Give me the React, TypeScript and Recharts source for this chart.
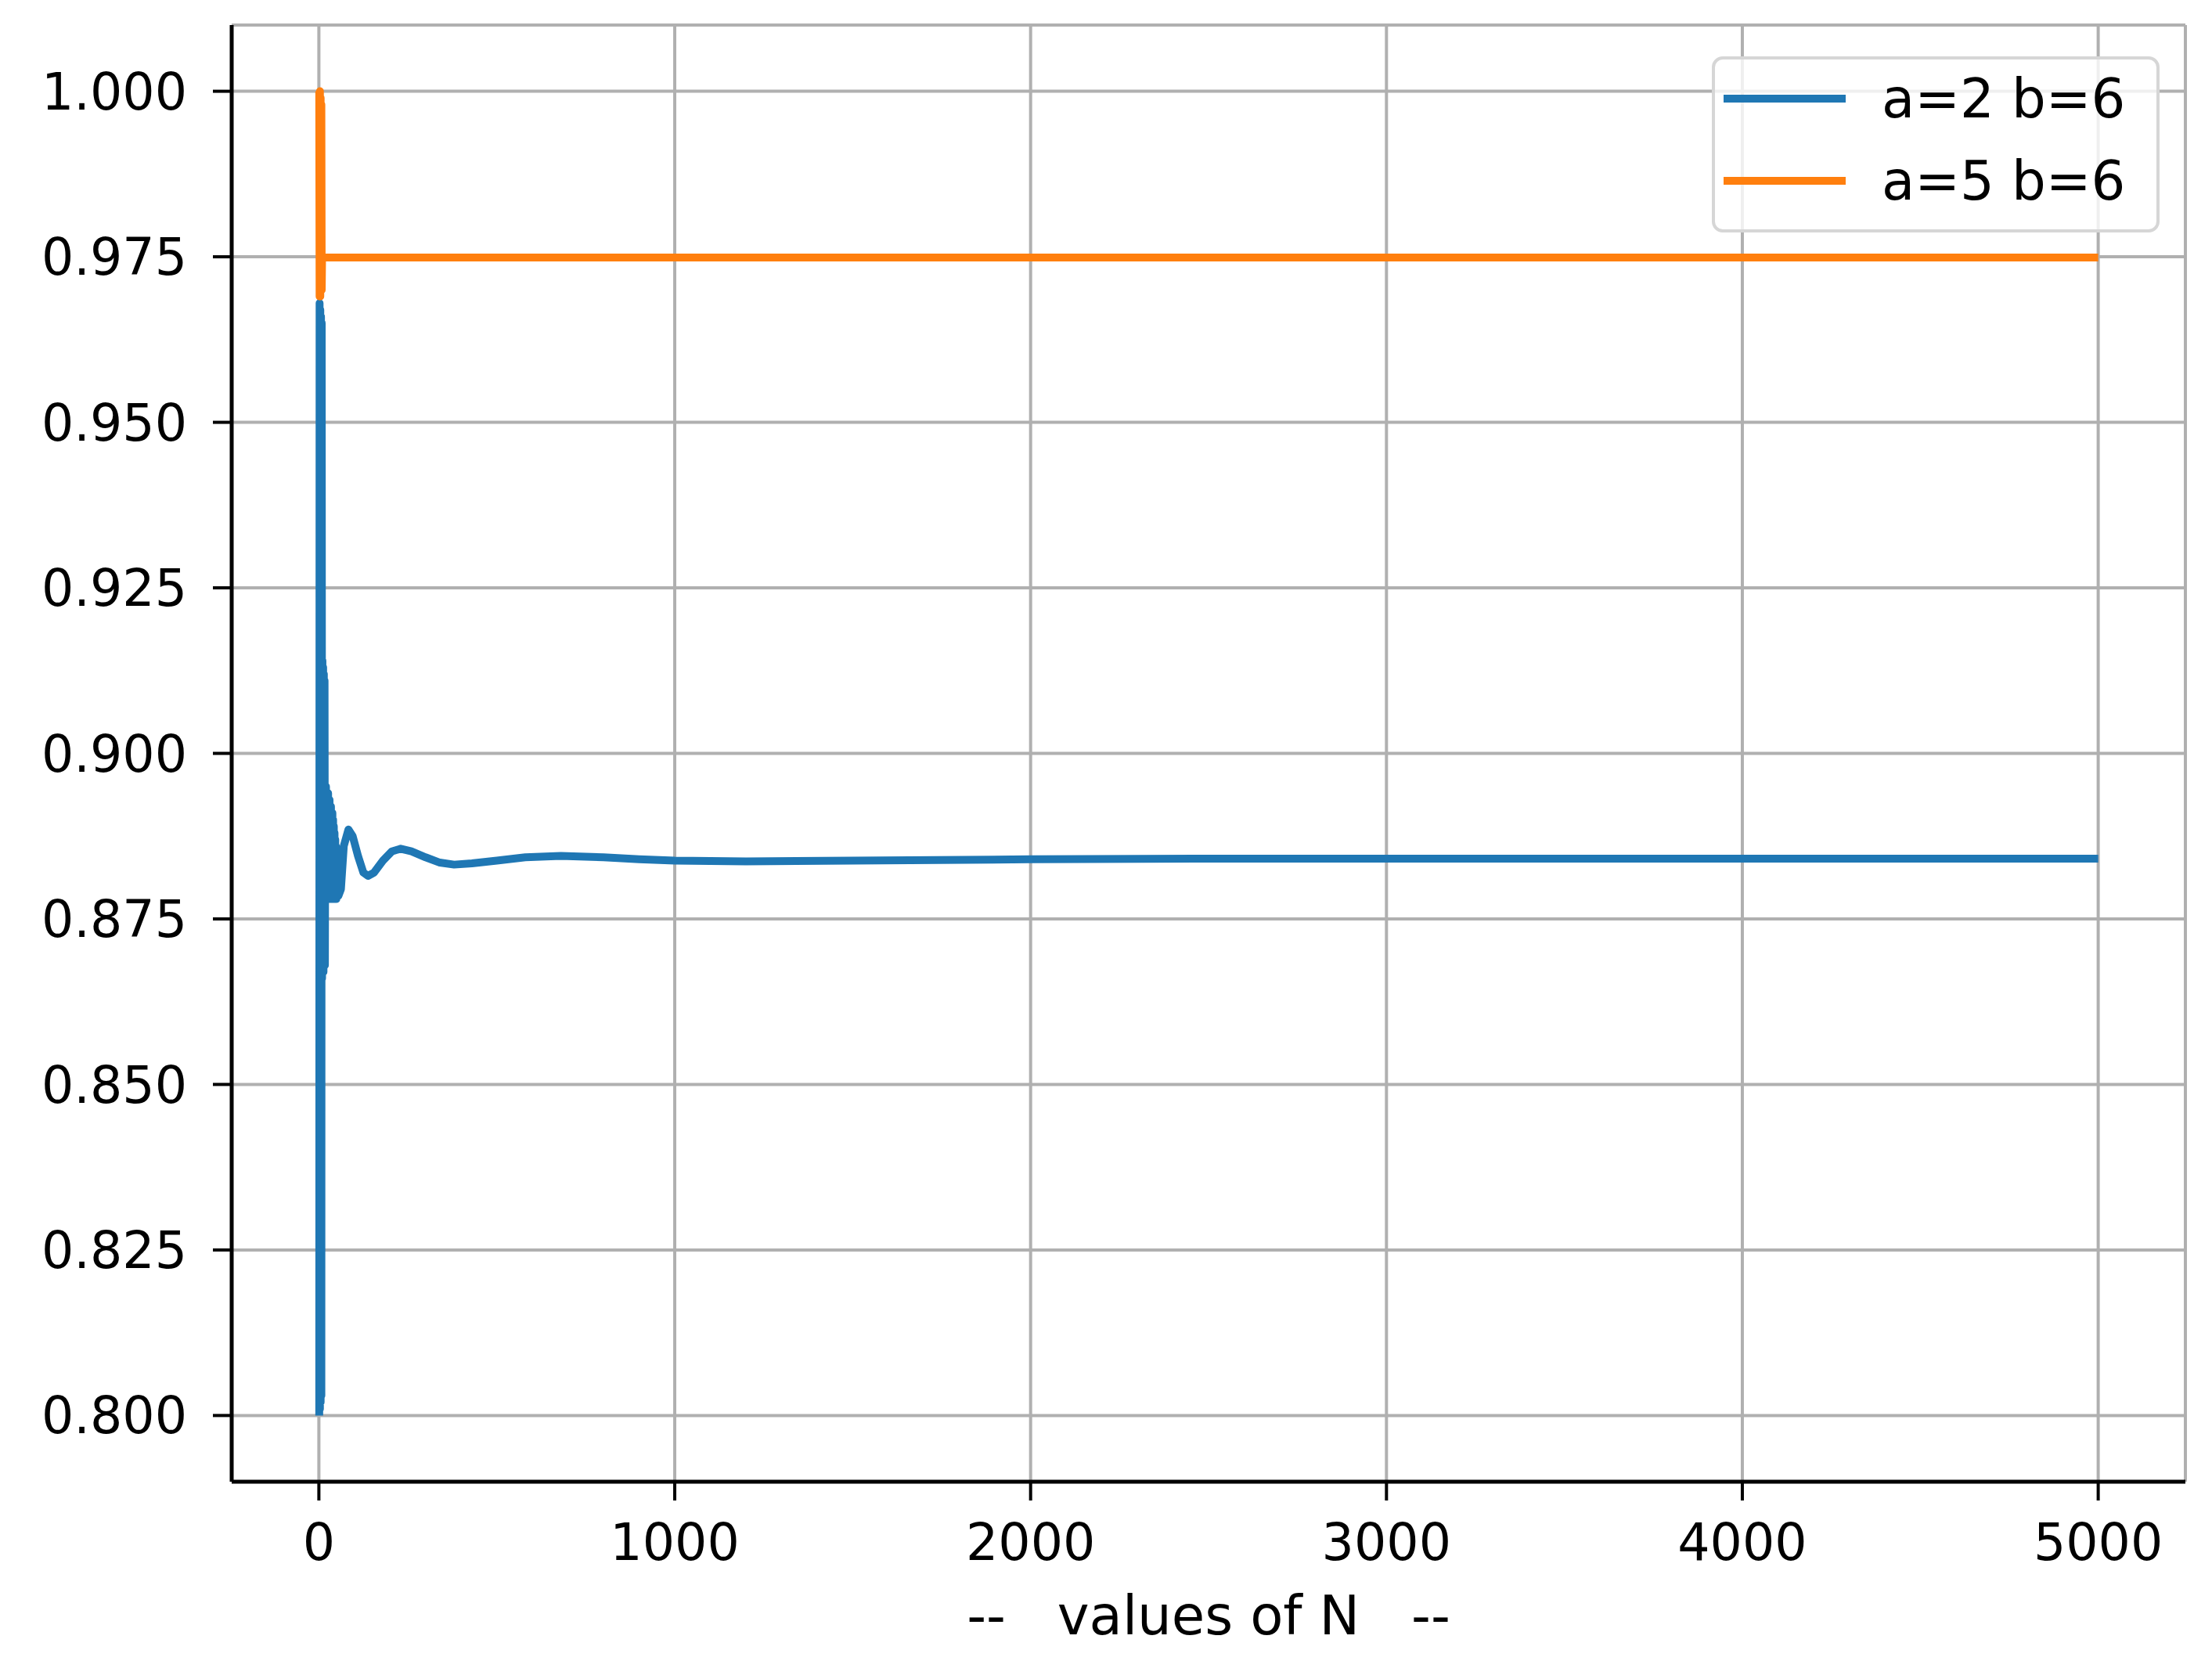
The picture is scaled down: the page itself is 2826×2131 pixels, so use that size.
import React from "react";
import {
  LineChart,
  Line,
  XAxis,
  YAxis,
  CartesianGrid,
  Legend,
  Label,
} from "recharts";

// values of N and ratios (dense near N=0 where it oscillates)
const blueN = [
  1, 2, 3, 4, 5, 6, 7, 8, 9, 10, 11, 12, 13, 14, 15, 16, 17, 18, 19, 20, 21,
  22, 23, 24, 25, 26, 27, 28, 29, 30, 31, 32, 33, 34, 35, 36, 37, 38, 39, 40,
  41, 42, 43, 44, 45, 46, 47, 48, 49, 50, 55, 62, 70, 83, 95, 110, 125, 138,
  155, 180, 205, 230, 260, 300, 340, 380, 430, 500, 580, 680, 800, 900, 1000,
  1200, 1500, 2000, 2500, 3000, 4000, 5000,
];
const blueValues = [
  0.8, 0.968, 0.801, 0.967, 0.802, 0.966, 0.803, 0.965,
  0.866, 0.914, 0.867, 0.913, 0.867, 0.912, 0.868, 0.911, 0.868,
  0.895, 0.878, 0.895, 0.878, 0.894, 0.878, 0.894, 0.878, 0.894, 0.878, 0.893,
  0.878, 0.893, 0.878, 0.892, 0.878, 0.892, 0.878, 0.891, 0.878, 0.891, 0.878,
  0.89, 0.878, 0.889, 0.878, 0.888, 0.878, 0.887, 0.878, 0.886, 0.878, 0.885,
  0.8785, 0.8795, 0.886, 0.8885, 0.8875, 0.8845, 0.882, 0.8815, 0.882, 0.8838,
  0.8852, 0.8856, 0.8852, 0.8843, 0.8835, 0.8832, 0.8834, 0.8838, 0.8843,
  0.8845, 0.8843, 0.884, 0.8838, 0.8837, 0.8838, 0.884, 0.8841, 0.8841,
  0.8841, 0.8841,
];

const orangeN = [1, 2, 3, 4, 5, 6, 7, 8, 9, 5000];
const orangeValues = [
  1.0, 0.969, 1.0, 0.969, 0.999, 0.97, 0.998, 0.97, 0.9749, 0.9749,
];

const xTicks = [0, 1000, 2000, 3000, 4000, 5000];
const yTicks = [0.8, 0.825, 0.85, 0.875, 0.9, 0.925, 0.95, 0.975, 1.0];

const blueData = blueN.map((n, i) => ({ n, value: blueValues[i] }));
const orangeData = orangeN.map((n, i) => ({ n, value: orangeValues[i] }));

const FONT = "DejaVu Sans";

const renderLegend = (props: any) => {
  const { payload } = props;
  return (
    <div
      style={{
        boxSizing: "border-box",
        width: 572,
        height: 225,
        border: "4px solid #d6d6d6",
        borderRadius: 14,
        background: "rgba(255,255,255,0.8)",
        fontFamily: FONT,
        fontSize: 69,
        color: "#000",
        display: "flex",
        flexDirection: "column",
        gap: 5,
      }}
    >
      {payload.map((entry: any, i: number) => (
        <div
          key={i}
          style={{ display: "flex", alignItems: "center", height: 100 }}
        >
          <div
            style={{
              marginLeft: 11,
              width: 156,
              height: 10,
              background: entry.color,
            }}
          />
          <span style={{ marginLeft: 46, lineHeight: 1, whiteSpace: "pre" }}>
            {entry.value}
          </span>
        </div>
      ))}
    </div>
  );
};

const App = () => {
  const tickStyle = { fill: "#000", fontSize: 65, fontFamily: FONT };
  return (
    <div
      style={{ position: "absolute", left: 0, top: 0, background: "#fff" }}
    >
      <LineChart
        width={2826}
        height={2131}
        margin={{ top: 32, right: 34, bottom: 0, left: 0 }}
      >
        <CartesianGrid stroke="#b0b0b0" strokeWidth={4} />
        <XAxis
          dataKey="n"
          type="number"
          domain={[-245, 5245]}
          ticks={xTicks}
          allowDataOverflow
          height={238}
          tickSize={24}
          tickMargin={30}
          tick={tickStyle}
          axisLine={{ stroke: "#000", strokeWidth: 5 }}
          tickLine={{ stroke: "#000", strokeWidth: 4 }}
        >
          <Label
            value={"--\u00A0\u00A0\u00A0values of N\u00A0\u00A0\u00A0--"}
            position="insideBottom"
            offset={43}
            style={{ fill: "#000", fontSize: 69, fontFamily: FONT }}
          />
        </XAxis>
        <XAxis
          xAxisId="top"
          orientation="top"
          type="number"
          domain={[-245, 5245]}
          height={0}
          tick={false}
          tickLine={false}
          axisLine={{ stroke: "#000", strokeWidth: 5 }}
        />
        <YAxis
          type="number"
          domain={[0.79, 1.01]}
          ticks={yTicks}
          allowDataOverflow
          width={296}
          tickSize={24}
          tickMargin={33}
          tick={tickStyle}
          tickFormatter={(v: number) => v.toFixed(3)}
          axisLine={{ stroke: "#000", strokeWidth: 5 }}
          tickLine={{ stroke: "#000", strokeWidth: 4 }}
        />
        <YAxis
          yAxisId="right"
          orientation="right"
          type="number"
          domain={[0.79, 1.01]}
          width={0}
          tick={false}
          tickLine={false}
          axisLine={{ stroke: "#000", strokeWidth: 5 }}
        />
        <Line
          data={blueData}
          dataKey="value"
          name="a=2 b=6"
          type="linear"
          stroke="#1f77b4"
          strokeWidth={10}
          strokeLinejoin="round"
          dot={false}
          activeDot={false}
          isAnimationActive={false}
        />
        <Line
          data={orangeData}
          dataKey="value"
          name="a=5 b=6"
          type="linear"
          stroke="#ff7f0e"
          strokeWidth={10}
          strokeLinejoin="round"
          dot={false}
          activeDot={false}
          isAnimationActive={false}
        />
        <Legend
          layout="vertical"
          align="center"
          verticalAlign="middle"
          content={renderLegend}
          wrapperStyle={{ left: 2187, top: 72, width: 572, height: 225 }}
        />
      </LineChart>
    </div>
  );
};

export default App;
